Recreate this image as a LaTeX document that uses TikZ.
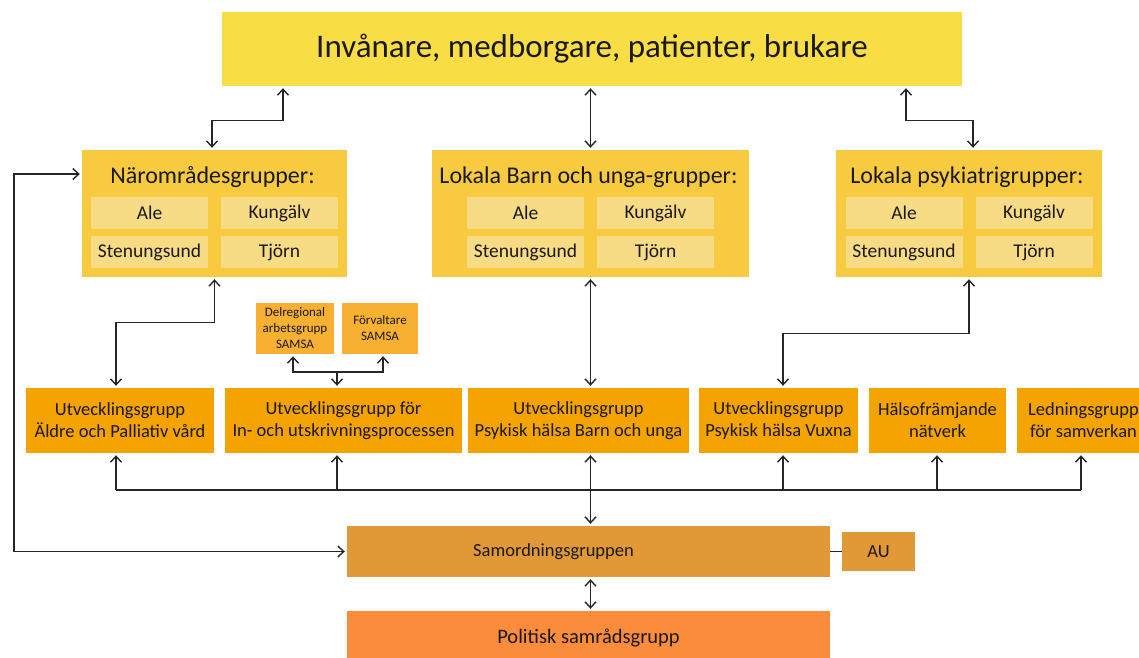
\documentclass[tikz,border=0pt]{standalone}
\usepackage{fontspec}
\setmainfont{Carlito}
\usetikzlibrary{arrows.meta}

\definecolor{topgul}{HTML}{F8DD45}
\definecolor{grpgul}{HTML}{F8CA40}
\definecolor{ljusgul}{HTML}{F8DC85}
\definecolor{orangeA}{HTML}{F5A300}
\definecolor{orangeB}{HTML}{F7B031}
\definecolor{samordfarg}{HTML}{E19836}
\definecolor{politikfarg}{HTML}{FA8C3C}
\definecolor{linje}{HTML}{262626}

\begin{document}
\begin{tikzpicture}[x=1pt, y=-1pt,
    box/.style={rectangle, inner sep=0pt, align=center, text=black!90},
    topbox/.style={box, fill=topgul, font=\fontsize{33}{39}\selectfont},
    grpbox/.style={box, fill=grpgul},
    kommun/.style={box, fill=ljusgul, minimum width=117pt, minimum height=32pt, font=\fontsize{19.5}{23}\selectfont},
    utvbox/.style={box, fill=orangeA, minimum height=65pt, font=\fontsize{18.5}{22}\selectfont},
    smabox/.style={box, fill=orangeB, minimum width=78pt, minimum height=51pt, font=\fontsize{13}{16}\selectfont},
    link/.style={draw=linje, line width=1.4pt},
    >={Straight Barb[length=6pt,width=11pt]}]

    \useasboundingbox (0,0) rectangle (1139,657);

    % --- 1. Invånare överst ---
    \node[topbox, minimum width=740pt, minimum height=74pt] (top) at (592,49)
        {Invånare, medborgare, patienter, brukare};

    % --- 2. De tre lokala grupperna med kommunerna ---
    \foreach \g/\cx/\w/\hd in {near/214.5/265/Närområdesgrupper:,
                              barn/590.5/317/Lokala Barn och unga-grupper:,
                              psyk/969/266/Lokala psykiatrigrupper:} {
        \node[grpbox, minimum width=\w pt, minimum height=127pt] (\g) at (\cx,213.5) {};
        \node[box, anchor=base, font=\fontsize{24}{28}\selectfont] (\g-rubrik) at (\cx-2,183) {\hd};
        \node[kommun] (\g-ale) at (\cx-65,213) {Ale};
        \node[kommun] (\g-kungalv) at (\cx+65,213) {Kungälv};
        \node[kommun] (\g-stenungsund) at (\cx-65,252) {Stenungsund};
        \node[kommun] (\g-tjorn) at (\cx+65,252) {Tjörn};
    }

    % --- 3. SAMSA-rutorna ---
    \node[smabox] (delreg) at (295,328.5) {Delregional\\arbetsgrupp\\SAMSA};
    \node[smabox, minimum width=76pt] (forv) at (380,328.5) {Förvaltare\\SAMSA};

    % --- 4. Utvecklingsgrupper m.m. ---
    \foreach \n/\cx/\w/\txt in {utv1/120/188/{Utvecklingsgrupp\\Äldre och Palliativ vård},
                               utv2/343.5/237/{Utvecklingsgrupp för\\In- och utskrivningsprocessen},
                               utv3/578.5/221/{Utvecklingsgrupp\\Psykisk hälsa Barn och unga},
                               utv4/778.5/159/{Utvecklingsgrupp\\Psykisk hälsa Vuxna},
                               utv5/937.5/137/{Hälsofrämjande\\nätverk},
                               utv6/1083.5/133/{Ledningsgrupp\\för samverkan}} {
        \node[utvbox, minimum width=\w pt] (\n) at (\cx,420.5) {\txt};
    }

    % --- 5. Samordning, AU och politik ---
    \node[box, fill=samordfarg, minimum width=483pt, minimum height=51pt] (samord) at (588.5,551.5) {};
    \node[box, font=\fontsize{18.5}{22}\selectfont] (samord-text) at (553.5,551.5) {Samordningsgruppen};
    \node[box, fill=samordfarg, minimum width=73pt, minimum height=39pt,
          font=\fontsize{18.5}{22}\selectfont] (au) at (878.5,551.5) {AU};
    \node[box, fill=politikfarg, minimum width=483pt, minimum height=54pt,
          font=\fontsize{20.5}{24}\selectfont] (pol) at (588.5,638) {Politisk samrådsgrupp};

    % --- 6. Pilar uppåt mot invånarna ---
    \draw[link, <->, shorten <=2pt, shorten >=2pt] ([xshift=-309]top.south) -- ++(0,34) -| ([xshift=-2.5]near.north);
    \draw[link, <->, shorten <=2pt, shorten >=2pt] (top.south -| barn.north) -- (barn.north);
    \draw[link, <->, shorten <=2pt, shorten >=2pt] ([xshift=314]top.south) -- ++(0,34) -| ([xshift=4]psyk.north);

    % --- 7. Lokala grupper ned till utvecklingsgrupperna ---
    \draw[link, <->, shorten <=2pt, shorten >=2pt] (near.south) -- ++(0,45) -| ([xshift=-4]utv1.north);
    \draw[link, <->, shorten <=2pt, shorten >=2pt] (barn.south) -- (barn.south |- utv3.north);
    \draw[link, <->, shorten <=2pt, shorten >=2pt] (psyk.south) -- ++(0,56) -| ([xshift=4.5]utv4.north);

    % --- 8. Gren till SAMSA ---
    \coordinate (gren) at (337,372);
    \draw[link, ->, shorten >=2pt] (gren) -- (gren |- utv2.north);
    \draw[link, ->, shorten >=2pt] (gren) -| ([xshift=-2]delreg.south);
    \draw[link, ->, shorten >=2pt] (gren) -| ([xshift=3]forv.south);

    % --- 9. Samlingsskena under utvecklingsgrupperna ---
    \coordinate (buss) at (0,490);
    \draw[link] ([xshift=-4]utv1.south |- buss) -- ([xshift=-2.5]utv6.south |- buss);
    \foreach \n/\dx in {utv1/-4, utv2/-6.5, utv4/4.5, utv5/-0.5, utv6/-2.5}
        \draw[link, ->, shorten >=2pt] ([xshift=\dx]\n.south |- buss) -- ([xshift=\dx]\n.south);
    \draw[link, <->, shorten <=2pt, shorten >=2pt] (utv3.south -| barn.south) -- (samord.north -| barn.south);

    % --- 10. Övriga kopplingar ---
    \draw[link, <->, shorten <=2pt, shorten >=2pt] (samord.west) -- ++(-333,0) |- ([yshift=39.5]near.west);
    \draw[link] (samord.east) -- (au.west);
    \draw[link, <->, shorten <=2pt, shorten >=2pt] (samord.south -| barn.south) -- (pol.north -| barn.south);

\end{tikzpicture}
\end{document}
